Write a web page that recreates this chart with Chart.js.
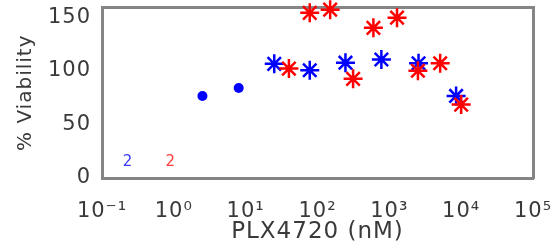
<!DOCTYPE html>
<html><head><meta charset="utf-8">
<script src="https://cdn.jsdelivr.net/npm/chart.js@4/dist/chart.umd.min.js"></script>
<style>html,body{margin:0;padding:0;background:#fff;overflow:hidden}#wrap{width:557px;height:252px;position:relative}</style>
</head><body><div id="wrap"><canvas id="c" width="557" height="252"></canvas></div>
<script>
// ---- data ----
const blueDotX = [2.5, 8];
const blueDotY = [76.5, 84];
const blueStarX = [25, 78, 245, 775, 2550, 8500];
const blueStarY = [106.5, 100.5, 107.5, 110.5, 107, 76.5];
const redStarX = [40, 78, 150, 313, 600, 1280, 2500, 5100, 10000];
const redStarY = [102, 154, 157, 92.5, 140, 149.5, 100, 107, 68.5];
const xTickValues = [0.1, 1, 10, 100, 1000, 10000, 100000];
const xTickLabels = ['10⁻¹', '10⁰', '10¹', '10²', '10³', '10⁴', '10⁵'];
const yTickValues = [0, 50, 100, 150];
const noteX = [0.23, 0.91];
const noteY = [15, 15];
const noteText = ['2', '2'];
const noteColor = ['#3a3aff', '#ff3a3a'];

const toPts = (xs, ys) => xs.map((x, i) => ({x: x, y: ys[i]}));
const FONT = "'DejaVu Sans', 'Liberation Sans', sans-serif";
const TXT = '#3a3a3a';
const FRAME = '#858585';

const spacing = {
  id: 'spacing',
  beforeLayout(c) { c.ctx.letterSpacing = '1px'; },
  beforeDraw(c) { c.ctx.letterSpacing = '1px'; }
};
const notes = {
  id: 'notes',
  afterDatasetsDraw(c) {
    const ctx = c.ctx, xs = c.scales.x, ys = c.scales.y;
    ctx.save();
    ctx.font = "15px " + FONT;
    ctx.textAlign = 'center';
    ctx.textBaseline = 'middle';
    noteText.forEach((t, i) => {
      ctx.fillStyle = noteColor[i];
      ctx.fillText(t, xs.getPixelForValue(noteX[i]), ys.getPixelForValue(noteY[i]));
    });
    ctx.restore();
  }
};
const noPad = (s) => { s.paddingTop = 0; s.paddingBottom = 0; s.paddingLeft = 0; s.paddingRight = 0; };

const frameAxis = (pos, type) => ({
  type: type, position: pos, display: true,
  min: type === 'logarithmic' ? 0.1 : 0, max: type === 'logarithmic' ? 100000 : 159,
  grid: {display: true, drawOnChartArea: false, drawTicks: false},
  border: {display: true, color: FRAME, width: 3},
  ticks: {display: false},
  afterFit(s) { if (pos === 'top') s.height = 0; else s.width = 0; noPad(s); }
});

new Chart(document.getElementById('c'), {
  type: 'scatter',
  data: {
    datasets: [
      {label: 'red', data: toPts(redStarX, redStarY), pointStyle: 'star', radius: 9.5, borderWidth: 2.5,
       borderColor: '#ff0000', backgroundColor: '#ff0000', clip: false},
      {label: 'blue', data: toPts(blueStarX, blueStarY), pointStyle: 'star', radius: 9.5, borderWidth: 2.5,
       borderColor: '#0000ff', backgroundColor: '#0000ff', clip: false},
      {label: 'blue dots', data: toPts(blueDotX, blueDotY), pointStyle: 'circle', radius: 5, borderWidth: 0,
       borderColor: '#0000ff', backgroundColor: '#0000ff', clip: false}
    ]
  },
  options: {
    responsive: false, animation: false,
    layout: {autoPadding: false, padding: {top: 7.5, right: 24, left: 0, bottom: 0}},
    plugins: {legend: {display: false}, tooltip: {enabled: false}},
    scales: {
      x: {
        type: 'logarithmic', position: 'bottom', min: 0.1, max: 100000,
        afterBuildTicks(s) { s.ticks = xTickValues.map(v => ({value: v})); },
        afterFit(s) { s.height = 74; noPad(s); },
        grid: {display: true, drawOnChartArea: false, drawTicks: false},
        border: {display: true, color: FRAME, width: 3},
        ticks: {
          autoSkip: false, maxRotation: 0, padding: 21, color: TXT,
          font: {family: FONT, size: 21},
          callback: (v) => xTickLabels[xTickValues.indexOf(v)]
        },
        title: {display: true, text: 'PLX4720 (nM)', color: TXT, font: {family: FONT, size: 23},
                padding: {top: 0, bottom: 6}}
      },
      y: {
        type: 'linear', position: 'left', min: 0, max: 159,
        afterBuildTicks(s) { s.ticks = yTickValues.map(v => ({value: v})); },
        afterFit(s) { s.width = 102; noPad(s); },
        grid: {display: true, drawOnChartArea: false, drawTicks: false},
        border: {display: true, color: FRAME, width: 3},
        ticks: {padding: 11, color: TXT, font: {family: FONT, size: 21}},
        title: {display: true, text: '% Viability', color: TXT, font: {family: FONT, size: 20},
                padding: {top: 14, bottom: 0}}
      },
      x2: frameAxis('top', 'logarithmic'),
      y2: frameAxis('right', 'linear')
    }
  },
  plugins: [spacing, notes]
});
</script></body></html>
